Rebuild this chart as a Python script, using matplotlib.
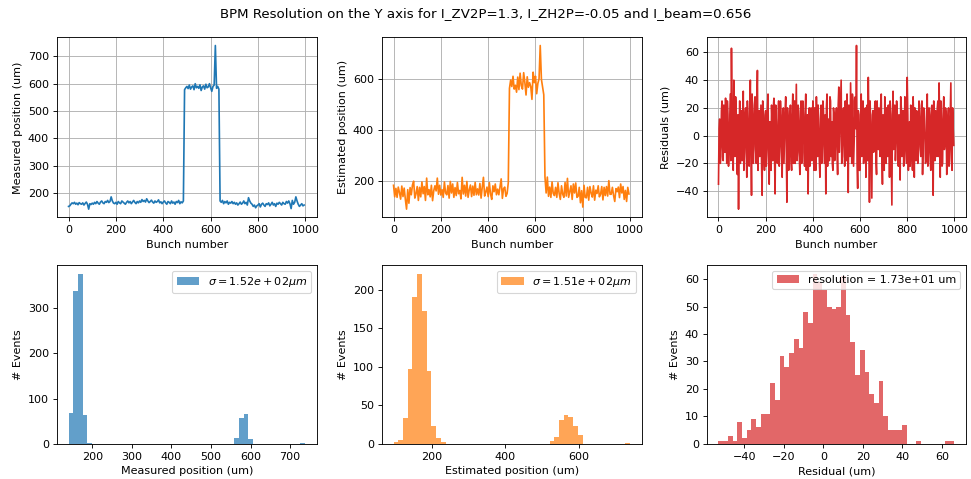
"""BPM resolution on the Y axis: measured vs estimated positions and residuals."""

import numpy as np
import matplotlib
matplotlib.use("Agg")
import matplotlib.pyplot as plt

# Bunch numbers (every 5th bunch)
bunch = np.arange(0, 1000, 5)
# Residuals are read at a finer step to keep the dense look
bunch_res = np.arange(0, 1000, 2.5)

measured = [
    150, 152, 158, 163, 160, 165, 158, 162, 156, 164, 160, 158, 163, 155, 161, 166, 158, 140, 160, 157,
    162, 158, 165, 160, 168, 162, 158, 166, 170, 163, 160, 168, 165, 172, 164, 168, 185, 170, 162, 160,
    165, 158, 168, 163, 160, 170, 166, 162, 158, 165, 170, 163, 168, 160, 166, 172, 165, 160, 168, 163,
    170, 165, 175, 168, 172, 166, 178, 170, 164, 168, 173, 166, 162, 170, 165, 168, 174, 163, 167, 160,
    166, 170, 163, 158, 168, 165, 160, 170, 162, 166, 158, 168, 164, 172, 160, 167, 163, 170, 578, 585,
    590, 582, 595, 580, 588, 592, 578, 600, 585, 590, 583, 596, 575, 588, 592, 580, 598, 585, 588, 600,
    585, 572, 590, 595, 740, 583, 590, 580, 170, 165, 172, 160, 168, 163, 170, 158, 165, 162, 168, 160,
    165, 158, 163, 155, 160, 166, 158, 162, 170, 160, 165, 155, 182, 170, 162, 158, 150, 155, 145, 152,
    155, 160, 148, 158, 162, 155, 150, 160, 157, 163, 152, 158, 165, 155, 160, 150, 162, 158, 165, 160,
    155, 165, 160, 158, 168, 162, 170, 160, 142, 172, 158, 165, 185, 170, 158, 150, 155, 160, 152, 155,
]

estimated = [
    185, 140, 173, 138, 178, 157, 131, 182, 141, 174, 130, 92, 168, 115, 176, 148, 186, 201, 135, 152,
    180, 126, 177, 140, 198, 152, 180, 126, 213, 148, 168, 140, 185, 125, 164, 183, 163, 213, 150, 185,
    147, 168, 138, 198, 155, 148, 184, 135, 200, 155, 190, 138, 176, 145, 196, 152, 165, 132, 216, 151,
    185, 143, 200, 138, 167, 186, 141, 182, 146, 196, 148, 171, 147, 192, 135, 178, 216, 143, 159, 178,
    141, 195, 151, 130, 183, 160, 190, 148, 170, 148, 178, 210, 134, 172, 178, 142, 153, 195, 563, 595,
    570, 610, 560, 575, 548, 607, 558, 622, 573, 560, 624, 586, 537, 608, 567, 585, 570, 520, 626, 585,
    610, 542, 582, 600, 730, 598, 568, 538, 218, 155, 217, 142, 178, 138, 198, 153, 145, 177, 138, 195,
    153, 130, 183, 150, 138, 196, 143, 212, 138, 160, 183, 130, 190, 155, 194, 138, 142, 177, 117, 164,
    100, 185, 138, 136, 177, 127, 180, 155, 139, 183, 127, 166, 153, 183, 140, 150, 180, 128, 177, 145,
    180, 143, 203, 150, 150, 177, 145, 122, 172, 160, 178, 137, 190, 155, 180, 130, 165, 122, 177, 151,
]

residuals = [
    -35, 5, 12, -20, -15, 18, 25, -8, -18, 22, 8, -12, 27, 3, -20, 25, 15, -22, -10, 10,
    30, -18, 63, 20, -5, -25, 40, 8, -15, 28, 18, -12, -28, 15, -53, 0, 25, -20, 5, 18,
    -18, 10, 32, -25, -12, 15, 20, -10, -30, 25, 10, -15, -22, 20, 40, -8, -43, 30, 15, -20,
    -8, 22, 28, -10, -20, 20, 47, -25, 0, 18, -15, 5, 22, -20, -43, 25, 12, -12, -25, 15,
    18, -22, -10, 20, 30, -15, -35, 10, 5, -25, 22, 8, -18, 20, 27, -15, -42, 22, 10, -18,
    -20, 10, 25, -22, -8, 25, 15, -12, -30, 15, 20, -20, 0, 18, 28, -10, -48, 20, 12, -25,
    -15, 12, 22, -18, -25, 15, 30, -20, 5, 25, -20, 10, 37, -18, -12, 22, 18, -15, -28, 10,
    25, -20, -5, 25, 15, -12, -22, 18, 30, -25, -10, 15, -42, 5, 20, -22, 8, 20, -18, -12,
    25, -15, -25, 20, 12, -25, 28, 8, -15, 22, 5, -18, -30, 12, 22, -20, -8, 25, 18, -10,
    -20, 15, -42, 20, 30, -22, 0, 12, -18, 28, 25, -15, 10, -20, -25, 20, 15, -18, -10, 12,
    20, -10, -28, 22, 35, -12, 5, 25, 40, -20, -15, 15, 20, -5, -22, 25, 12, -18, 30, -10,
    -41, 22, 10, -15, 38, 8, -20, 30, 25, -22, -5, 15, 28, 5, 65, -20, -38, 18, 15, -25,
    -25, 10, 30, -15, 8, 25, -20, -12, 15, 20, -30, 5, 22, -18, 42, 10, -48, 25, 10, -20,
    -45, 15, 18, -12, -10, 22, 25, -18, -28, 25, 5, -10, 20, 8, -15, 22, 30, -12, -35, 15,
    12, -25, 28, 10, -20, 20, 5, -15, 22, 8, -30, 25, 15, -20, -50, 15, 32, -10, 0, 22,
    -18, -5, 25, 18, -8, -22, 15, 10, -32, 28, 20, -15, 8, 18, -22, -10, 28, 15, -12, -20,
    42, 15, -25, 5, 10, -22, 22, 12, -15, -25, 28, 10, -30, 20, 5, -18, 18, 15, -20, -10,
    25, 22, -8, -15, 12, 25, -28, -8, 20, 18, 0, -20, -18, 12, 30, -22, -12, 20, 15, -18,
    -25, 20, 22, -15, -43, 25, 8, -18, 18, 12, -15, 20, 25, -15, 38, 10, -30, 25, 12, -22,
    -20, 18, 28, -10, -5, 20, 15, -28, -22, 12, 20, -22, -10, 15, 38, -18, -25, 20, 4, -7,
]

# Histogram counts (50 bins each) and bin ranges
meas_range = (140, 738)
meas_counts = [
    68, 337, 376, 65, 3, 0, 0, 0, 0, 0, 0, 0, 0, 0, 0, 0, 0, 0, 0, 0,
    0, 0, 0, 0, 0, 0, 0, 0, 0, 0, 0, 0, 0, 0, 0, 14, 57, 66, 12, 0,
    0, 0, 0, 0, 0, 0, 0, 0, 0, 2,
]

est_range = (96, 738)
est_counts = [
    2, 5, 34, 97, 191, 221, 172, 95, 23, 8, 2, 0, 0, 0, 0, 0, 0, 0, 0, 0,
    0, 0, 0, 0, 0, 0, 0, 0, 0, 0, 0, 0, 0, 4, 9, 31, 37, 35, 23, 11,
    0, 0, 0, 0, 0, 0, 0, 0, 0, 1,
]

res_range = (-53.1, 66.2)
res_counts = [
    1, 1, 3, 1, 8, 2, 5, 9, 6, 11, 11, 22, 16, 32, 28, 33, 38, 35, 48, 44,
    62, 59, 56, 50, 49, 50, 61, 47, 37, 25, 34, 26, 18, 15, 23, 10, 5, 5, 5, 7,
    0, 0, 1, 0, 0, 0, 0, 0, 1, 1,
]

meas_sigma = 1.52e02
est_sigma = 1.51e02
resolution = 1.73e01

fig, axes = plt.subplots(2, 3, figsize=(971 / 80, 479 / 80), dpi=80)

# Axes placement in figure fractions (left, bottom, width, height)
lefts = [0.0584, 0.3931, 0.7278]
widths = [0.268, 0.2678, 0.267]
for j in range(3):
    axes[0, j].set_position([lefts[j], 0.5463, widths[j], 0.3758])
    axes[1, j].set_position([lefts[j], 0.0731, widths[j], 0.3737])

# Top row: position per bunch
series = [
    (bunch, measured, "C0", "Measured position (um)"),
    (bunch, estimated, "C1", "Estimated position (um)"),
    (bunch_res, residuals, "C3", "Residuals (um)"),
]
for ax, (xs, vals, color, ylabel) in zip(axes[0], series):
    ax.plot(xs, vals, color=color)
    ax.set_xlim(-50, 1049)
    ax.set_xlabel("Bunch number")
    ax.set_ylabel(ylabel)
    ax.grid(True)

# Bottom row: distributions
hists = [
    (meas_counts, meas_range, "C0", rf"$\sigma = {meas_sigma:.2e} \mu m$", "Measured position (um)"),
    (est_counts, est_range, "C1", rf"$\sigma = {est_sigma:.2e} \mu m$", "Estimated position (um)"),
    (res_counts, res_range, "C3", f"resolution = {resolution:.2e} um", "Residual (um)"),
]
for ax, (counts, rng, color, label, xlabel) in zip(axes[1], hists):
    edges = np.linspace(rng[0], rng[1], len(counts) + 1)
    ax.hist(edges[:-1], bins=edges, weights=counts, color=color, alpha=0.7, label=label)
    ax.set_xlabel(xlabel)
    ax.set_ylabel("# Events")
    ax.legend(loc="upper right")

# The reference uses slightly sparser y ticks than the default here
for ax in axes.flat:
    ax.locator_params(axis="y", nbins=7)

fig.suptitle("BPM Resolution on the Y axis for I_ZV2P=1.3, I_ZH2P=-0.05 and I_beam=0.656",
             y=0.985)

fig.savefig("out.png", dpi=80)
